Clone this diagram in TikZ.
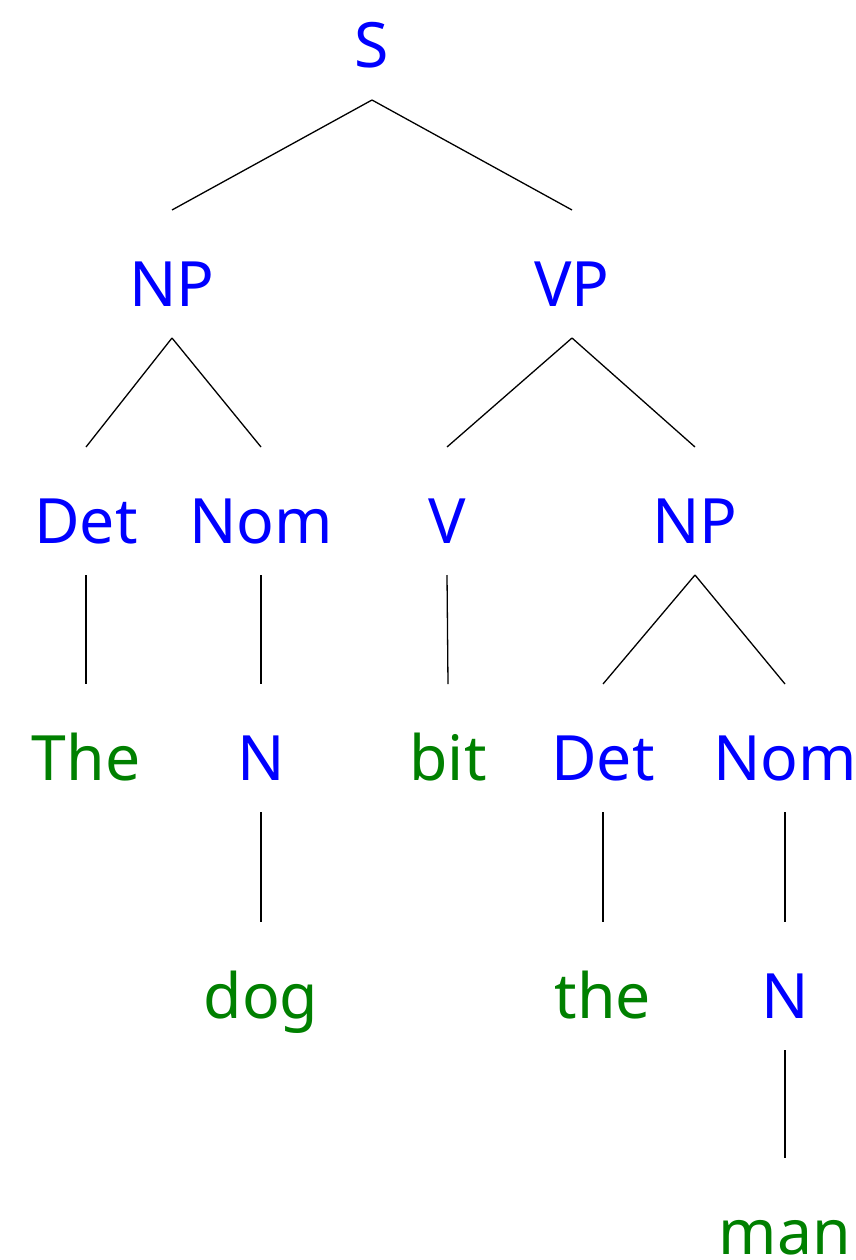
\documentclass[tikz,border=0pt]{standalone}
\usepackage{fontspec}
\setmainfont{Noto Sans}
\usetikzlibrary{calc}
\definecolor{catblue}{RGB}{0,0,255}
\definecolor{wordgreen}{RGB}{0,128,0}
\begin{document}
\begin{tikzpicture}[x=1pt,y=-1pt,
  lbl/.style={anchor=base,inner sep=0pt,font=\fontsize{62.5}{70}\selectfont},
  cat/.style={lbl,text=catblue},
  word/.style={lbl,text=wordgreen},
  edge/.style={draw=black,line width=1.3pt}]
\useasboundingbox (0,0) rectangle (855,1260);
% row 1
\node[cat] (S) at (372,68) {S};
% row 2
\node[cat] (NP1) at (172,306) {NP};
\node[cat] (VP) at (572,306) {VP};
% row 3
\node[cat] (Det1) at (86,543) {Det};
\node[cat] (Nom1) at (261,543) {Nom};
\node[cat] (V) at (447,543) {V};
\node[cat] (NP2) at (695,543) {NP};
% row 4
\node[word] (The) at (86,780) {The};
\node[cat] (N1) at (261,780) {N};
\node[word] (bit) at (448,780) {bit};
\node[cat] (Det2) at (603,780) {Det};
\node[cat] (Nom2) at (785,780) {Nom};
% row 5
\node[word] (dog) at (261,1018) {dog};
\node[word] (the) at (603,1018) {the};
\node[cat] (N2) at (785,1018) {N};
% row 6
\node[word] (man) at (785,1254) {man};
% connectors
\foreach \a/\b in {S/NP1,S/VP,NP1/Det1,NP1/Nom1,VP/V,VP/NP2,Det1/The,Nom1/N1,V/bit,NP2/Det2,NP2/Nom2,N1/dog,Det2/the,Nom2/N2,N2/man}
  \draw[edge] ([yshift=-32pt]\a.base) -- ([yshift=96pt]\b.base);
\end{tikzpicture}
\end{document}
